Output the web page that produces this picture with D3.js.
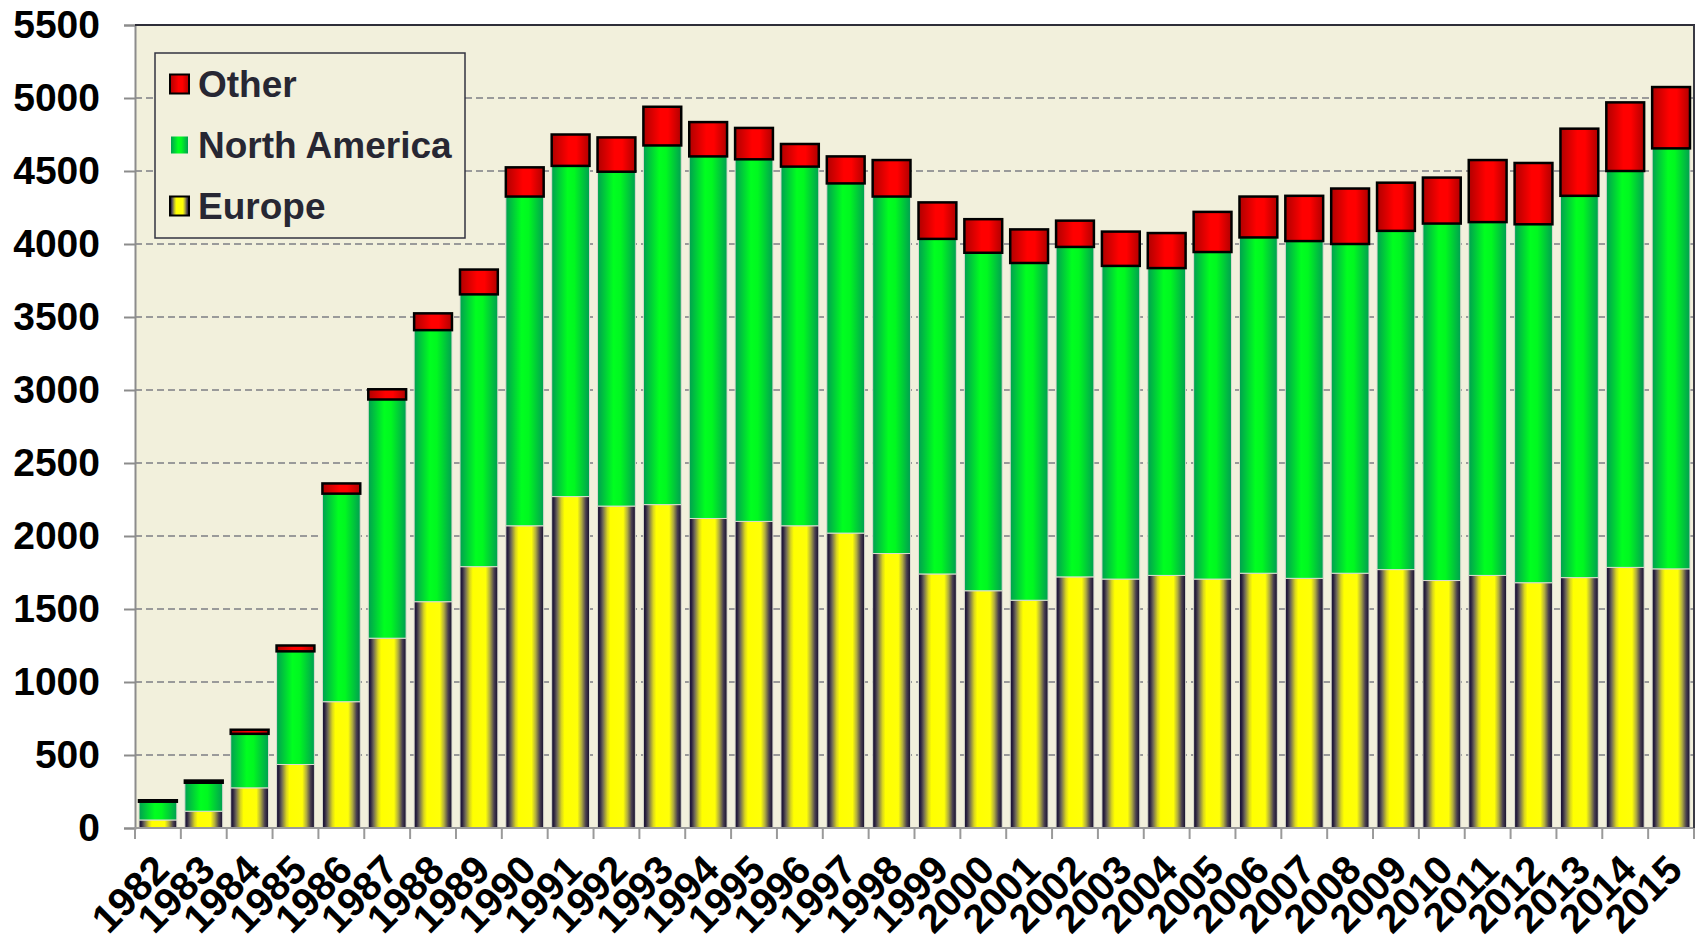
<!DOCTYPE html>
<html>
<head>
<meta charset="utf-8">
<script src="https://cdn.jsdelivr.net/npm/d3@7"></script>
<style>
  body { margin: 0; background: #fff; }
  svg { display: block; font-family: "Liberation Sans", Arial, sans-serif; }
</style>
</head>
<body>
<svg id="chart" width="1702" height="940"></svg>
<script>
// values (units per year)
const years = ["1982","1983","1984","1985","1986","1987","1988","1989","1990","1991","1992","1993",
  "1994","1995","1996","1997","1998","1999","2000","2001","2002","2003","2004","2005","2006","2007",
  "2008","2009","2010","2011","2012","2013","2014","2015"];
const europe = [55, 115, 275, 435, 865, 1300, 1550, 1790, 2070, 2270, 2205, 2215,
  2120, 2100, 2070, 2020, 1880, 1740, 1625, 1560, 1720, 1705, 1730, 1705, 1745, 1710,
  1745, 1770, 1695, 1730, 1680, 1715, 1785, 1775];
const northAmerica = [125, 195, 370, 775, 1425, 1635, 1860, 1865, 2255, 2265, 2290, 2460,
  2480, 2480, 2460, 2395, 2445, 2295, 2315, 2310, 2260, 2145, 2105, 2240, 2300, 2310,
  2255, 2320, 2445, 2420, 2455, 2615, 2715, 2880];
const other = [10, 15, 28, 40, 70, 70, 115, 170, 200, 215, 235, 265,
  235, 215, 155, 185, 250, 250, 230, 230, 180, 235, 240, 275, 280, 310,
  380, 330, 315, 425, 420, 460, 470, 420];
const yTicks = [0, 500, 1000, 1500, 2000, 2500, 3000, 3500, 4000, 4500, 5000, 5500];
const seriesNames = ["Europe", "North America", "Other"];

const svg = d3.select("#chart");
const plotLeft = 135, plotRight = 1694, plotTop = 25, plotBottom = 828;

const rows = years.map((y, i) => ({ year: y, "Europe": europe[i], "North America": northAmerica[i], "Other": other[i] }));
const stacked = d3.stack().keys(seriesNames)(rows);

const x = d3.scaleBand().domain(years).range([plotLeft, plotRight]).paddingInner(0.175).paddingOuter(0.0875);
const y = d3.scaleLinear().domain([0, 5500]).range([plotBottom, plotTop]);

// gradients
const defs = svg.append("defs");
function grad(id, stops) {
  const g = defs.append("linearGradient").attr("id", id).attr("x1", "0%").attr("x2", "100%").attr("y1", "0%").attr("y2", "0%");
  stops.forEach(s => g.append("stop").attr("offset", s[0]).attr("stop-color", s[1]));
}
grad("gEurope", [["0%", "#140e2c"], ["6%", "#2a2240"], ["14%", "#6e6858"], ["26%", "#d8d420"], ["34%", "#ffff00"],
  ["68%", "#ffff08"], ["79%", "#b0ac40"], ["90%", "#4a4050"], ["100%", "#140e2c"]]);
grad("gNA", [["0%", "#00a050"], ["42%", "#00ff20"], ["60%", "#00f820"], ["100%", "#00a050"]]);
grad("gOther", [["0%", "#b00000"], ["45%", "#ff0000"], ["65%", "#ff0000"], ["100%", "#b00000"]]);
const fills = { "Europe": "url(#gEurope)", "North America": "url(#gNA)", "Other": "url(#gOther)" };

// plot background
svg.append("rect").attr("x", plotLeft).attr("y", plotTop).attr("width", plotRight - plotLeft).attr("height", plotBottom - plotTop)
  .attr("fill", "#f2f0dc");

// dashed gridlines
svg.append("g").selectAll("line")
  .data(yTicks.filter(d => d > 0 && d < 5500))
  .enter().append("line")
  .attr("x1", plotLeft).attr("x2", plotRight)
  .attr("y1", d => y(d)).attr("y2", d => y(d))
  .attr("stroke", "#9a9a9a").attr("stroke-width", 2).attr("stroke-dasharray", "7,4");

// bars
svg.append("g").selectAll("g")
  .data(stacked)
  .enter().append("g")
  .attr("fill", d => fills[d.key])
  .attr("stroke", d => d.key === "Other" ? "#000" : "#dcdcd0")
  .attr("stroke-width", d => d.key === "Other" ? 2.5 : 1)
  .selectAll("rect")
  .data(d => d)
  .enter().append("rect")
  .attr("x", d => x(d.data.year))
  .attr("width", x.bandwidth())
  .attr("y", d => y(d[1]))
  .attr("height", d => y(d[0]) - y(d[1]));

// y axis
const yAxis = svg.append("g").attr("transform", `translate(${plotLeft},0)`)
  .call(d3.axisLeft(y).tickValues(yTicks).tickFormat(d3.format("d")).tickSize(11).tickPadding(24));
yAxis.select(".domain").attr("stroke", "#8c8c8c").attr("stroke-width", 2);
yAxis.selectAll(".tick line").attr("stroke", "#8c8c8c").attr("stroke-width", 2);
yAxis.selectAll(".tick text").attr("fill", "#000").attr("font-size", 39).attr("font-weight", "bold")
  .attr("font-family", "'Liberation Sans', Arial, sans-serif");

// x axis: ticks at category boundaries
const bounds = years.map(yr => x(yr) - x.step() * x.paddingInner() / 2).concat([plotRight]);
const xg = svg.append("g");
xg.append("line").attr("x1", plotLeft).attr("x2", plotRight).attr("y1", plotBottom).attr("y2", plotBottom)
  .attr("stroke", "#9a9a9a").attr("stroke-width", 2);
xg.selectAll("line.tk").data(bounds).enter().append("line").attr("class", "tk")
  .attr("x1", d => d).attr("x2", d => d).attr("y1", plotBottom).attr("y2", plotBottom + 11)
  .attr("stroke", "#9a9a9a").attr("stroke-width", 2);
xg.selectAll("text").data(years).enter().append("text")
  .attr("transform", d => `translate(${x(d) + x.bandwidth() / 2 - 7},${plotBottom + 24}) rotate(-45)`)
  .attr("text-anchor", "end")
  .attr("dy", "0.72em")
  .attr("font-size", 40).attr("font-weight", "bold").attr("fill", "#000")
  .text(d => d);

// frame top and right
svg.append("line").attr("x1", plotLeft).attr("x2", plotRight + 1).attr("y1", plotTop).attr("y2", plotTop)
  .attr("stroke", "#2e2e38").attr("stroke-width", 2);
svg.append("line").attr("x1", plotRight).attr("x2", plotRight).attr("y1", plotTop).attr("y2", plotBottom)
  .attr("stroke", "#3a3a44").attr("stroke-width", 2);

// legend
const legend = svg.append("g");
legend.append("rect").attr("x", 155).attr("y", 53).attr("width", 310).attr("height", 185)
  .attr("fill", "#f2f0dc").attr("stroke", "#333340").attr("stroke-width", 1.5);
const legendItems = ["Other", "North America", "Europe"];
const legendY = d3.scalePoint().domain(legendItems).range([84, 206]);
legendItems.forEach(name => {
  const cy = legendY(name);
  const s = name === "North America" ? 17 : 19;
  legend.append("rect").attr("x", 179.5 - s / 2).attr("y", cy - s / 2).attr("width", s).attr("height", s)
    .attr("fill", fills[name])
    .attr("stroke", name === "North America" ? "none" : "#000").attr("stroke-width", 2);
  legend.append("text").attr("x", 198).attr("y", cy).attr("dy", "0.36em")
    .attr("font-size", 37).attr("font-weight", "bold").attr("fill", "#272733")
    .text(name);
});
</script>
</body>
</html>
